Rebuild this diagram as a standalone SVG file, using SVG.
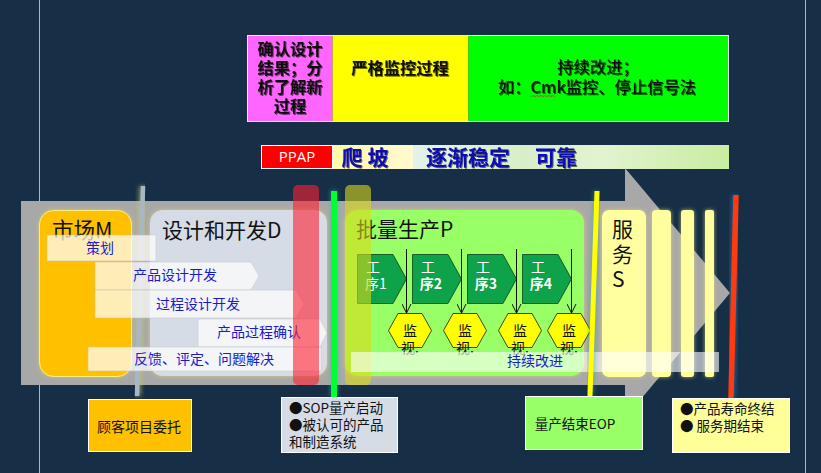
<svg xmlns="http://www.w3.org/2000/svg" width="821" height="473" viewBox="0 0 821 473">
<style>
text{font-family:"Noto Sans CJK SC","Liberation Sans",sans-serif;text-anchor:middle;fill:#000}
.st{fill:#fff;stroke:#bfc3c8;stroke-width:.6}
.sl{font-size:14px;fill:#1a1ad0}
.big{font-size:21px;text-anchor:start;fill:#111}
.gx{font-size:14px;fill:#fff}
.mon{font-size:14px;fill:#111}
.hx{fill:#ffff00;stroke:#1a1a1a;stroke-width:.8}
.ch{fill:#0ea24b;stroke:#0b3d20;stroke-width:.8}
.ar{stroke:#111;stroke-width:1;fill:none;marker-end:url(#a)}
.bx{stroke:#fff;stroke-width:1}
.bt{font-size:13.500px;fill:#111}
.tt{font-size:16.300px;font-weight:700;fill:#111;filter:url(#s)}
.bl{font-size:21px;font-weight:700;fill:#0a0ab0;filter:url(#s)}
.gl{fill:#e8e070;opacity:.7;filter:url(#g)}
</style>
<defs>
<filter id="g" x="-30%" y="-10%" width="160%" height="120%"><feGaussianBlur stdDeviation="2"/></filter>
<filter id="s" x="-5%" y="-10%" width="110%" height="125%"><feDropShadow dx="1" dy="1" stdDeviation=".7" flood-color="#000" flood-opacity=".55"/></filter>
<linearGradient id="pg" x1="0" x2="1" y1="0" y2="0"><stop offset="0" stop-color="#fffaa8"/><stop offset="1" stop-color="#fffad0"/></linearGradient>
<linearGradient id="qg" x1="0" x2="1" y1="0" y2="0"><stop offset="0" stop-color="#e4f2ea"/><stop offset=".35" stop-color="#d8eec8"/><stop offset=".6" stop-color="#e2f3d0"/><stop offset="1" stop-color="#c8eda0"/></linearGradient>
<marker id="a" markerWidth="12" markerHeight="10" refX="10" refY="5" orient="auto" markerUnits="userSpaceOnUse"><path d="M1 .5L10 5L1 9.500" fill="none" stroke="#111" stroke-width="1"/></marker>
</defs>
<rect id="background" width="821" height="473" fill="#162f47"/>
<path d="M39.500 0V473M805.500 0V473" stroke="#a9b8c6" stroke-width="1" fill="none"/>

<g id="top-table">
<rect x="247.500" y="35.500" width="85" height="86" fill="#ff66ff"/>
<rect x="332.500" y="35.500" width="136" height="86" fill="#ffff00"/>
<rect x="468.500" y="35.500" width="260" height="86" fill="#00ff00"/>
<rect x="247.500" y="35.500" width="481" height="86" fill="none" stroke="#e8e8e8"/>
<text class="tt" x="290" y="55">确认设计</text>
<text class="tt" x="290" y="74">结果；分</text>
<text class="tt" x="290" y="93">析了解新</text>
<text class="tt" x="290" y="112">过程</text>
<text class="tt" x="400" y="74">严格监控过程</text>
<text class="tt" x="598" y="73" style="font-weight:500">持续改进；</text>
<text class="tt" x="597" y="93" style="font-weight:500">如：Cmk监控、停止信号法</text>
<path d="M531 96.500l2-1 2 1 2-1 2 1 2-1 2 1 2-1 2 1 2-1 2 1 2-1 2 1" fill="none" stroke="#d03030" stroke-width=".8"/>
</g>

<g id="ppap-bar">
<rect x="332" y="145" width="81" height="24" fill="url(#pg)"/>
<rect x="413" y="145" width="316" height="24" fill="url(#qg)"/>
<rect x="261.500" y="145.500" width="71" height="23" fill="#ff0000" stroke="#fff"/>
<text x="297" y="162" font-size="15" style="fill:#fff;font-family:'Open Sans','Noto Sans',sans-serif">PPAP</text>
<text class="bl" x="365" y="165">爬 坡</text>
<text class="bl" x="468" y="165">逐渐稳定</text>
<text class="bl" x="556" y="165">可靠</text>
</g>

<g id="main-arrow"><path d="M21 201H625V168L730 293L625 418V385H21Z" fill="#a8a8a8"/></g>

<g id="phase-boxes">
<g id="market"><rect class="gl" x="39.500" y="210.500" width="92" height="166" rx="14"/><rect x="39.500" y="210.500" width="92" height="166" rx="14" fill="#ffc000" stroke="#fff07a"/><text class="big" x="52" y="238" style="font-size:21.500px">市场M</text></g>
<g id="design"><rect class="gl" x="150" y="210" width="177" height="166" rx="13"/><rect x="150" y="210" width="177" height="166" rx="13" fill="#d6dce5"/><text class="big" x="162" y="238">设计和开发D</text></g>
<g id="production"><rect class="gl" x="345" y="210" width="239" height="166" rx="13"/><rect x="345" y="210" width="239" height="166" rx="13" fill="#99ff66"/><text class="big" x="356" y="237">批量生产P</text></g>
<g id="service"><rect class="gl" x="602" y="210" width="44" height="167" rx="7"/><rect x="602" y="210" width="44" height="167" rx="7" fill="#ffffa0"/><text class="big" x="612" y="237">服</text><text class="big" x="612" y="262">务</text><text class="big" x="612" y="287">S</text></g>
<g id="service-2"><rect class="gl" x="652" y="210" width="19" height="167" rx="4"/><rect x="652" y="210" width="19" height="167" rx="4" fill="#ffffa0"/></g>
<g id="service-3"><rect class="gl" x="681" y="210" width="13" height="167" rx="3"/><rect x="681" y="210" width="13" height="167" rx="3" fill="#ffffa0"/></g>
<g id="service-4"><rect class="gl" x="705" y="210" width="9" height="167" rx="2"/><rect x="705" y="210" width="9" height="167" rx="2" fill="#ffffa0"/></g>
</g>

<g id="m-line"><path d="M143 186L137 396" stroke="#c8c860" stroke-width="8" opacity=".6" filter="url(#g)" fill="none"/><path d="M143 186L137 396" stroke="#a9b6c6" stroke-width="4.500" fill="none"/></g>

<g id="process-steps">
<g id="step1"><path class="ch" d="M357.500 254.500H393L406.500 279L393 303.500H357.500Z"/><text class="gx" x="373" y="272">工</text><text class="gx" x="376" y="289">序1</text></g>
<g id="step2"><path class="ch" d="M412.500 254.500H448L461.500 279L448 303.500H412.500Z"/><text class="gx" x="428" y="272">工</text><text class="gx" x="431" y="289" font-weight="700">序2</text></g>
<g id="step3"><path class="ch" d="M467.500 254.500H503L516.500 279L503 303.500H467.500Z"/><text class="gx" x="483" y="272">工</text><text class="gx" x="486" y="289" font-weight="700">序3</text></g>
<g id="step4"><path class="ch" d="M522.500 254.500H558L571.500 279L558 303.500H522.500Z"/><text class="gx" x="538" y="272">工</text><text class="gx" x="541" y="289" font-weight="700">序4</text></g>
</g>
<g id="connectors">
<path class="ar" d="M406.500 249V313"/>
<path class="ar" d="M461.500 249V313"/>
<path class="ar" d="M516.500 249V313"/>
<path class="ar" d="M571.500 249V313"/>
</g>
<g id="monitors">
<g id="mon1"><path class="hx" d="M398 313.500H422L431.500 330.500L422 347.500H398L388.500 330.500Z"/><text class="mon" x="410" y="336">监</text><text class="mon" x="410" y="353">视.</text></g>
<g id="mon2"><path class="hx" d="M453 313.500H477L486.500 330.500L477 347.500H453L443.500 330.500Z"/><text class="mon" x="465" y="336">监</text><text class="mon" x="465" y="353">视.</text></g>
<g id="mon3"><path class="hx" d="M508 313.500H532L541.500 330.500L532 347.500H508L498.500 330.500Z"/><text class="mon" x="520" y="336">监</text><text class="mon" x="520" y="353">视.</text></g>
<g id="mon4"><path class="hx" d="M557 313.500H581L590.500 330.500L581 347.500H557L547.500 330.500Z"/><text class="mon" x="569" y="336">监</text><text class="mon" x="569" y="353">视.</text></g>
</g>

<g id="strips">
<g id="s1" opacity=".72"><rect class="st" x="47" y="235" width="109" height="26"/></g>
<text class="sl" x="100" y="253">策划</text>
<g id="s2" opacity=".72"><path class="st" d="M95 262H251L259 276L251 290H95Z"/></g>
<text class="sl" x="175" y="280">产品设计开发</text>
<g id="s3" opacity=".72"><path class="st" d="M95 290H296L304 304L296 318H95Z"/></g>
<text class="sl" x="198" y="309">过程设计开发</text>
<g id="s4" opacity=".72"><path class="st" d="M198 319H320L327 333L320 347H198Z"/></g>
<text class="sl" x="259" y="337">产品过程确认</text>
<g id="s5" opacity=".72"><rect class="st" x="88" y="347" width="233" height="24"/></g>
<text class="sl" x="204" y="364">反馈、评定、问题解决</text>
</g>

<g id="gates">
<rect x="293" y="185" width="26" height="200" rx="5" fill="#ff1f30" opacity=".6"/>
<rect x="345" y="185" width="26" height="200" rx="5" fill="#d8d818" opacity=".6"/>
<rect x="330" y="190" width="8" height="207" fill="#30c0a0" opacity=".4" filter="url(#g)"/>
<rect x="331" y="191" width="6" height="206" fill="#00ff33"/>
</g>

<g id="improve-strip">
<rect x="351" y="352" width="368" height="20" fill="#fff" opacity=".6"/>
<text class="sl" x="535" y="366">持续改进</text>
</g>

<g id="end-lines">
<path d="M597 191L590 396" stroke="#2aa0a0" stroke-width="8" opacity=".4" filter="url(#g)" fill="none"/>
<path d="M597 191L590 396" stroke="#ffff00" stroke-width="5" fill="none"/>
<path d="M736 195L731 398" stroke="#2080c0" stroke-width="9" opacity=".5" filter="url(#g)" fill="none"/>
<path d="M736 195L731 398" stroke="#ff3a10" stroke-width="5.500" fill="none"/>
</g>

<g id="box-customer"><rect class="bx" x="88.500" y="399.500" width="103" height="52" fill="#ffc000"/><text class="bt" x="139" y="432" style="font-size:14px">顾客项目委托</text></g>
<g id="box-sop"><rect class="bx" x="281.500" y="397.500" width="116" height="55" fill="#d6dce5"/>
<text class="bt" x="289" y="413" style="text-anchor:start">●SOP量产启动</text>
<text class="bt" x="289" y="430" style="text-anchor:start">●被认可的产品</text>
<text class="bt" x="289" y="447" style="text-anchor:start">和制造系统</text></g>
<g id="box-eop"><rect class="bx" x="525.500" y="396.500" width="117" height="53" fill="#99ff66"/><text class="bt" x="575" y="429">量产结束EOP</text></g>
<g id="box-end"><rect class="bx" x="672.500" y="398.500" width="117" height="54" fill="#ffff99"/>
<text class="bt" x="680" y="414" style="text-anchor:start">●产品寿命终结</text>
<text class="bt" x="680" y="431" style="text-anchor:start">● 服务期结束</text></g>
</svg>
